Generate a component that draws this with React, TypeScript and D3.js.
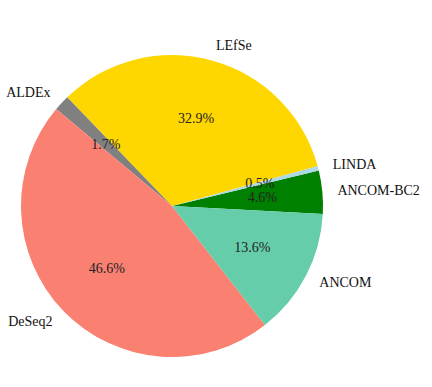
import React from "react";
import * as d3 from "d3";

// methods in drawing order (counter-clockwise from ~3 o'clock)
const methods = ["ANCOM-BC2", "LINDA", "LEfSe", "ALDEx", "DeSeq2", "ANCOM"];
const shares = [4.6, 0.5, 32.9, 1.7, 46.6, 13.6];
const sliceColors = ["#008000", "#add8e6", "#ffd700", "#808080", "#fa8072", "#66cdaa"];

const App = () => {
  const width = 432;
  const height = 387;
  const cx = 172;
  const cy = 206;
  const radius = 151;

  // matplotlib style: start slightly below east, go counter-clockwise
  const start = (93 * Math.PI) / 180;
  const pie = d3
    .pie<number>()
    .sort(null)
    .value((d) => d)
    .startAngle(start)
    .endAngle(start - 2 * Math.PI);
  const arcs = pie(shares);
  const arc = d3.arc<d3.PieArcDatum<number>>().innerRadius(0).outerRadius(radius);

  const pos = (a: number, r: number) => [r * Math.sin(a), -r * Math.cos(a)];

  return (
    <svg
      width={width}
      height={height}
      style={{
        position: "absolute",
        left: 0,
        top: 0,
        background: "#fff",
        fontFamily: "Liberation Serif",
        fontSize: 14,
      }}
    >
      <g transform={`translate(${cx},${cy})`}>
        {arcs.map((d, i) => (
          <path key={methods[i]} d={arc(d) || ""} fill={sliceColors[i]} />
        ))}
        {arcs.map((d, i) => {
          const mid = (d.startAngle + d.endAngle) / 2;
          const [lx, ly] = pos(mid, radius * 1.1);
          return (
            <text
              key={"l" + i}
              x={lx}
              y={ly}
              dominantBaseline="central"
              textAnchor={lx > 0 ? "start" : "end"}
              fill="#111"
            >
              {methods[i]}
            </text>
          );
        })}
        {arcs.map((d, i) => {
          const mid = (d.startAngle + d.endAngle) / 2;
          const [px, py] = pos(mid, radius * 0.6);
          return (
            <text
              key={"p" + i}
              x={px}
              y={py}
              dominantBaseline="central"
              textAnchor="middle"
              fill="#222"
            >
              {d.data.toFixed(1)}%
            </text>
          );
        })}
      </g>
    </svg>
  );
};

export default App;
